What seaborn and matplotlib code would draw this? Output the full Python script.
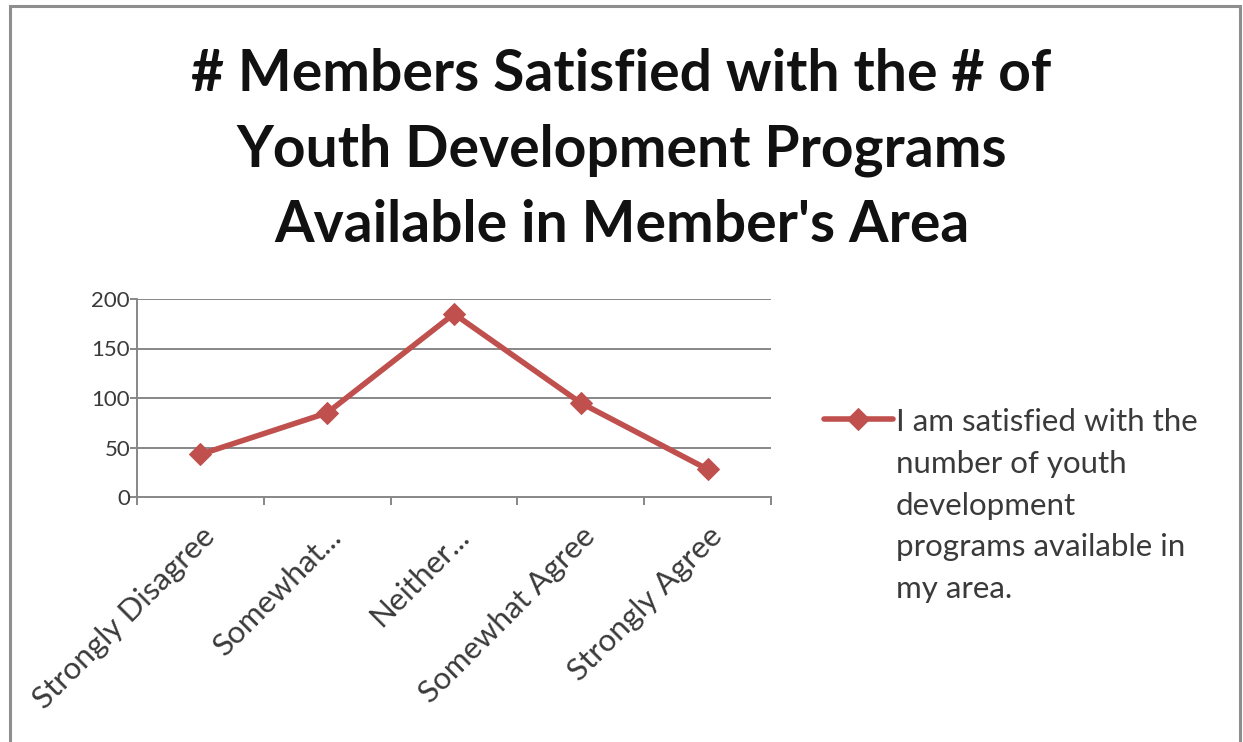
import matplotlib
matplotlib.use("Agg")
import matplotlib.pyplot as plt
from matplotlib.patches import Rectangle
from matplotlib.ticker import FixedLocator
import seaborn as sns
import pandas as pd

# Survey responses
categories = ["Strongly Disagree", "Somewhat...", "Neither...", "Somewhat Agree", "Strongly Agree"]
members = [43, 85, 185, 95, 28]
series_label = "I am satisfied with the\nnumber of youth\ndevelopment\nprograms available in\nmy area."
title = "# Members Satisfied with the # of\nYouth Development Programs\nAvailable in Member's Area"
y_ticks = [0, 50, 100, 150, 200]

df = pd.DataFrame({"response": categories, "members": members})

sns.set_theme(style="white")
plt.rcParams["font.family"] = ["Lato", "DejaVu Sans"]

W, H = 1243, 742
fig = plt.figure(figsize=(W / 100, H / 100), dpi=100)
fig.patch.set_facecolor("white")

# chart-area frame
fig.patches.append(Rectangle((10 / W, -0.05), 1230 / W, 1.05 - 6 / H, transform=fig.transFigure,
                             fill=False, edgecolor="#8e8e8e", linewidth=2.2, clip_on=False))

ax = fig.add_axes([137 / W, 1 - 497 / H, 634 / W, 198 / H])

line_color = "#BF504D"
sns.lineplot(data=df, x="response", y="members", ax=ax, sort=False, color=line_color,
             linewidth=4, marker="D", markersize=11, markeredgecolor=line_color,
             label=series_label)

grid_color = "#878787"
text_color = "#3a3a3a"
ax.set_xlim(-0.5, len(categories) - 0.5)
ax.set_ylim(0, 200)
ax.set_yticks(y_ticks)
ax.set_yticklabels([str(v) for v in y_ticks])
for v in y_ticks[1:]:
    ax.axhline(v, color=grid_color, linewidth=1.4, zorder=0)

for side in ["top", "right"]:
    ax.spines[side].set_visible(False)
for side in ["left", "bottom"]:
    ax.spines[side].set_color(grid_color)
    ax.spines[side].set_linewidth(1.4)

ax.set_xlabel("")
ax.set_ylabel("")
ax.xaxis.set_minor_locator(FixedLocator([i - 0.5 for i in range(len(categories) + 1)]))
ax.tick_params(axis="x", which="major", length=0, pad=18)
ax.tick_params(axis="x", which="minor", length=6, width=1.4, color=grid_color, direction="out", bottom=True)
ax.tick_params(axis="y", which="major", length=5, width=1.4, color=grid_color, direction="out",
               left=True, pad=0, labelsize=16, labelcolor=text_color)
for lab in ax.get_xticklabels():
    lab.set_rotation(45)
    lab.set_ha("right")
    lab.set_va("top")
    lab.set_rotation_mode("anchor")
    lab.set_fontsize(22.5)
    lab.set_color(text_color)

fig.text(0.5, 1 - 48 / H, title, ha="center", va="top", fontsize=41, fontweight="bold",
         color="#111111", linespacing=1.52)

leg = ax.legend(loc="upper left", bbox_to_anchor=(824 / W, 1 - 408 / H),
                bbox_transform=fig.transFigure, frameon=False, fontsize=22.5,
                handlelength=2.2, handletextpad=0.1, borderpad=0, borderaxespad=0,
                labelcolor=text_color)
for t in leg.get_texts():
    t.set_linespacing(1.6)
# keep the key beside the first line of the label
for col in leg._legend_handle_box.get_children():
    for item in col.get_children():
        item.align = "top"

fig.savefig("out.png", dpi=100, facecolor="white")
